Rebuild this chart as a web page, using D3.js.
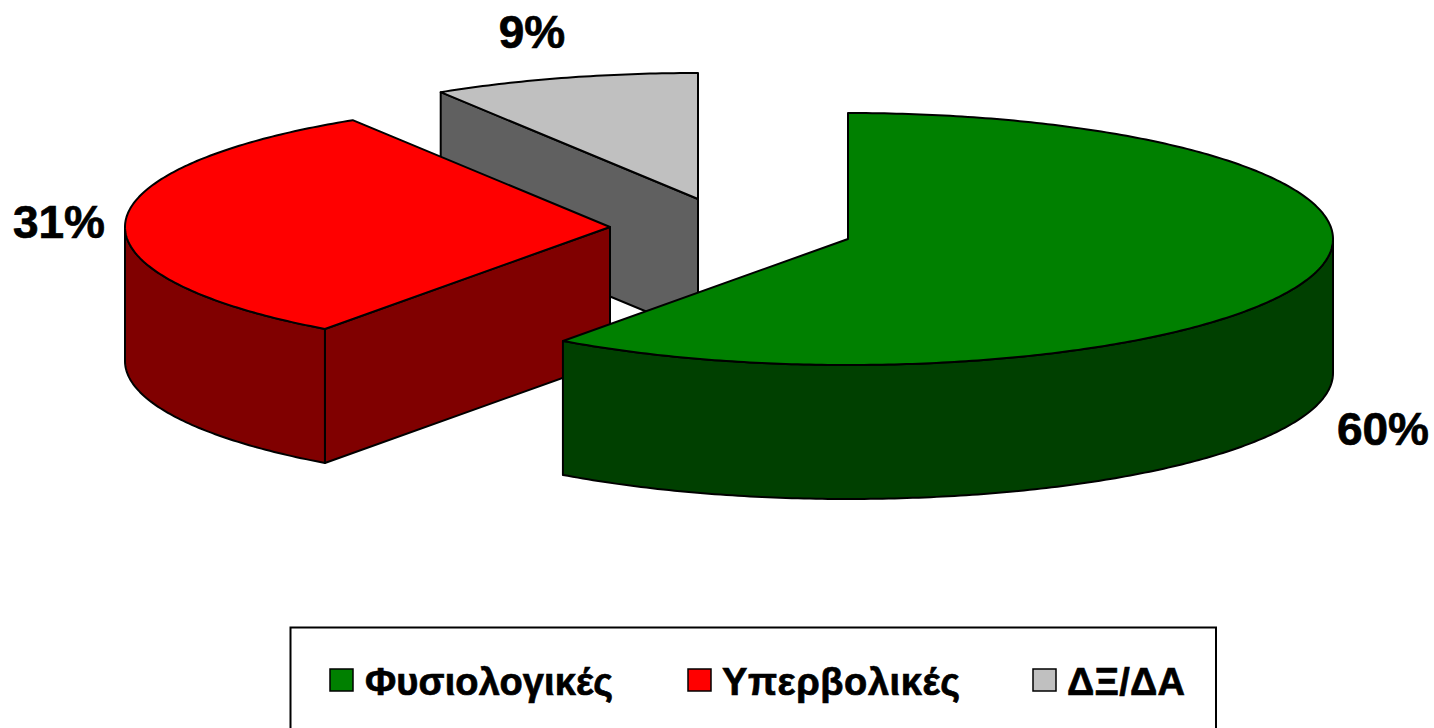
<!DOCTYPE html>
<html><head><meta charset="utf-8">
<script src="https://cdn.jsdelivr.net/npm/d3@7/dist/d3.min.js"></script>
<style>html,body{margin:0;padding:0;background:#fff;overflow:hidden}svg{display:block}
text{font-family:"Liberation Sans",Arial,sans-serif;font-weight:700;fill:#000;stroke:#000;stroke-width:.7px}</style>
</head><body><svg id="c" width="1434" height="728"></svg>
<script>
const categories = ["Φυσιολογικές", "Υπερβολικές", "ΔΞ/ΔΑ"];
const values = [60, 31.1, 8.9];
const valueLabels = ["60%", "31%", "9%"];
const topColors = ["#008000", "#ff0000", "#c0c0c0"];
const wallColors = ["#004000", "#800000", "#606060"];
const centersX = [848, 610, 698];
const centersY = [239, 227, 199];
const labelX = [1383, 59, 532];
const labelY = [445, 238, 48];
const legendSwatchX = [330, 688, 1033];
const legendTextX = [365, 722, 1067];
const legendTextW = [248, 238, 118];

const rx = 485, ry = 126, depth = 134;
const svg = d3.select("#c");
const arcs = d3.pie().sort(null).value(d => d)(values);
const line = d3.line();
const at = (a, i, dy = 0) => [centersX[i] + rx * Math.sin(a), centersY[i] - ry * Math.cos(a) + dy];
const ctr = (i, dy = 0) => [centersX[i], centersY[i] + dy];
const sweep = (a0, a1, i, dy) => {
  const n = Math.max(2, Math.ceil((a1 - a0) * 80));
  return d3.range(n + 1).map(k => at(a0 + (a1 - a0) * k / n, i, dy));
};
const style = (s, fill, w = 2) => s.attr("fill", fill).attr("stroke", "#000").attr("stroke-width", w).attr("stroke-linejoin", "round");

// paint back to front: grey, red, green
[2, 1, 0].forEach(i => {
  const { startAngle: a0, endAngle: a1 } = arcs[i];
  if (a0 > Math.PI) {
    style(svg.append("path").attr("d", line([ctr(i), at(a0, i), at(a0, i, depth), ctr(i, depth)]) + "Z"), wallColors[i]);
  }
  const f0 = Math.max(a0, Math.PI / 2), f1 = Math.min(a1, 3 * Math.PI / 2);
  if (f1 > f0) {
    const pts = sweep(f0, f1, i, 0).concat(sweep(f0, f1, i, depth).reverse());
    style(svg.append("path").attr("d", line(pts) + "Z"), wallColors[i]);
  }
  style(svg.append("path").attr("d", line([ctr(i)].concat(sweep(a0, a1, i, 0))) + "Z"), topColors[i]);
});

valueLabels.forEach((t, i) => {
  svg.append("text").attr("x", labelX[i]).attr("y", labelY[i]).attr("text-anchor", "middle")
    .attr("font-size", 46).text(t);
});

svg.append("rect").attr("x", 290.5).attr("y", 627.5).attr("width", 925.5).attr("height", 120)
  .attr("fill", "#fff").attr("stroke", "#000").attr("stroke-width", 2);
categories.forEach((t, i) => {
  svg.append("rect").attr("x", legendSwatchX[i]).attr("y", 669).attr("width", 23).attr("height", 22)
    .attr("fill", topColors[i]).attr("stroke", "#000").attr("stroke-width", 1.5);
  svg.append("text").attr("x", legendTextX[i]).attr("y", 695).attr("font-size", 38)
    .attr("textLength", legendTextW[i]).attr("lengthAdjust", "spacing").text(t);
});
</script></body></html>
